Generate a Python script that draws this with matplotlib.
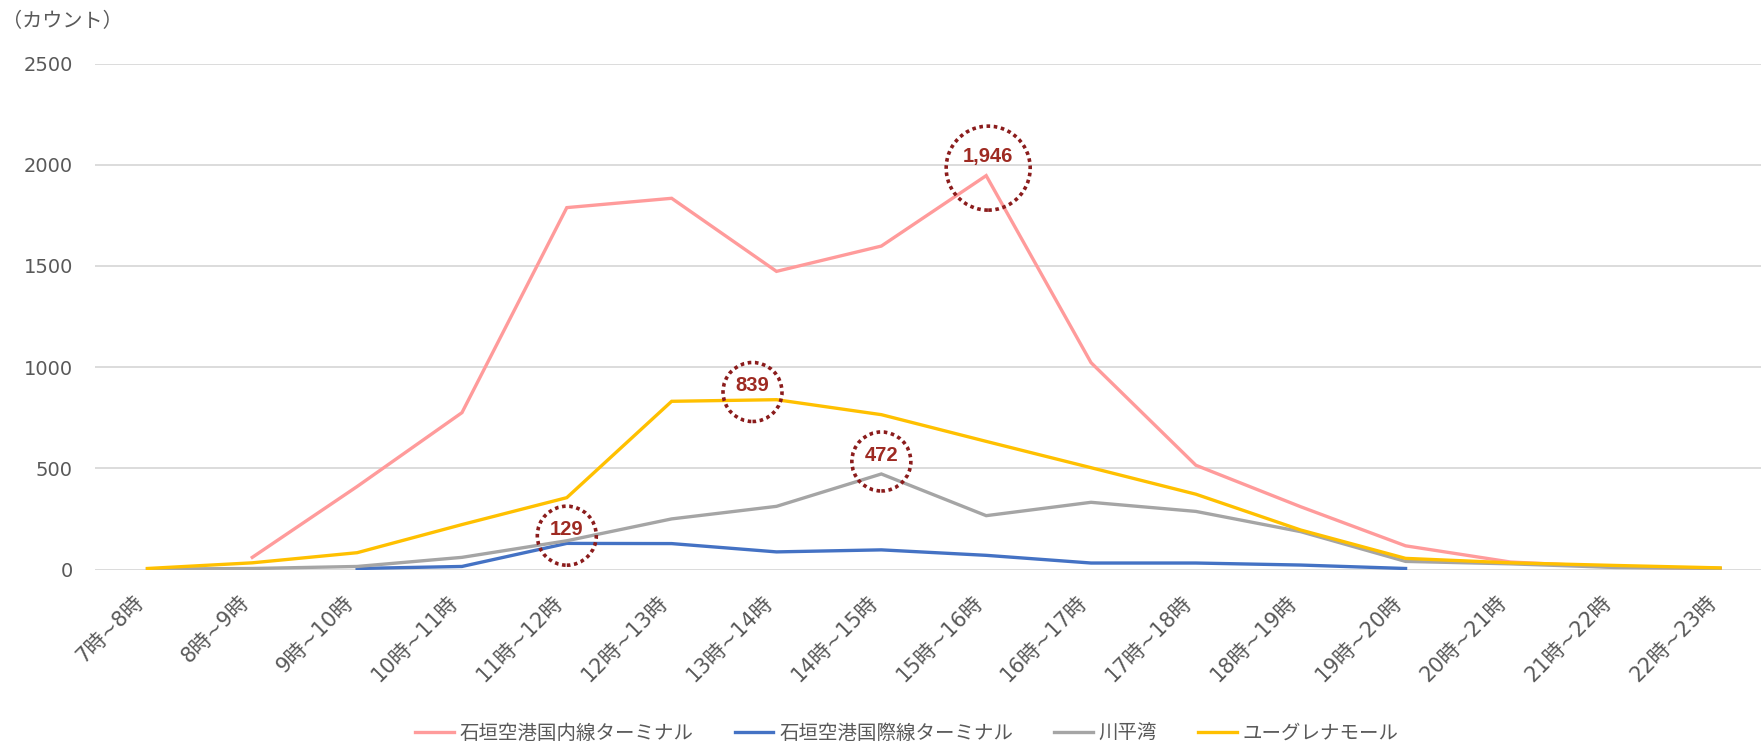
import numpy as np
import matplotlib
matplotlib.use('Agg')
import matplotlib.pyplot as plt
from matplotlib.transforms import ScaledTranslation

plt.rcParams['font.family'] = ['DejaVu Sans', 'Noto Sans CJK JP']

hours = ['7時~8時', '8時~9時', '9時~10時', '10時~11時', '11時~12時', '12時~13時',
         '13時~14時', '14時~15時', '15時~16時', '16時~17時', '17時~18時', '18時~19時',
         '19時~20時', '20時~21時', '21時~22時', '22時~23時']

nan = np.nan
domestic = [nan, 60, 410, 775, 1788, 1834, 1473, 1598, 1946, 1022, 515, 310, 117, 37, 12, 5]
international = [nan, nan, 5, 15, 129, 128, 87, 97, 70, 32, 32, 22, 5, nan, nan, nan]
kabira = [2, 5, 15, 60, 142, 250, 312, 472, 266, 332, 287, 187, 40, 28, 10, 5]
euglena = [5, 33, 83, 222, 355, 831, 839, 765, 633, 503, 372, 195, 55, 33, 20, 8]

series = [
    ('石垣空港国内線ターミナル', domestic, '#FF9B9B'),
    ('石垣空港国際線ターミナル', international, '#4472C4'),
    ('川平湾', kabira, '#A5A5A5'),
    ('ユーグレナモール', euglena, '#FFC000'),
]

# peaks marked with dotted circles: (index into hours, series values, label)
highlights = [
    (8, domestic, '1,946'),
    (6, euglena, '839'),
    (7, kabira, '472'),
    (4, international, '129'),
]

fig = plt.figure(figsize=(17.61, 7.45), dpi=100)
ax = fig.add_axes([95 / 1761, 1 - 569.5 / 745, 1 - 95 / 1761, (569.5 - 63.5) / 745])

x = np.arange(len(hours))
for name, vals, col in series:
    ax.plot(x, vals, color=col, lw=2.4, label=name, solid_joinstyle='miter', zorder=3)

ink = '#595959'
ax.set_ylim(0, 2500)
ax.set_xlim(-0.5, 15.39)
ax.set_yticks(np.arange(0, 2501, 500))
ax.set_xticks(x)
ax.set_xticklabels(hours, rotation=45, ha='right', fontsize=15, color=ink)
ax.tick_params(axis='y', length=0, pad=16, labelsize=14, labelcolor=ink)
ax.tick_params(axis='x', length=0, pad=16)
ax.grid(axis='y', color='#D9D9D9', lw=1.3)
ax.set_axisbelow(True)
for s in ax.spines.values():
    s.set_visible(False)

fig.text(2 / 1761, 1 - 22 / 745, '（カウント）', fontsize=14.5, color=ink,
         family='Noto Sans CJK JP', va='center', ha='left')

# dotted rings and value labels; offsets in pixels from the data point
ring_col = '#8B1C1C'
for i, vals, txt in highlights:
    big = txt == '1,946'
    dx = 2 if big else (-24 if txt == '839' else 0)
    dy_ring = 7.5 if big else (12.5 if txt == '472' else 7.7)
    r = 42 if big else 29.5
    d_pt = 2 * r * 0.72
    off = ScaledTranslation(dx / 100, dy_ring / 100, fig.dpi_scale_trans)
    ax.scatter([i], [vals[i]], s=d_pt ** 2, marker='o', facecolors='none',
               edgecolors=ring_col, linewidths=2.6, linestyles=(0, (1, 1.0)),
               transform=ax.transData + off, zorder=5, clip_on=False)
    dy_txt = 19 if big else dy_ring + 6
    ax.annotate(txt, (i, vals[i]), xytext=(dx, dy_txt), textcoords='offset pixels',
                ha='center', va='center', fontsize=14.5, fontweight='bold',
                color='#9E2A22', family='Liberation Sans', zorder=6)

fig.legend(loc='center', bbox_to_anchor=(907 / 1761, 1 - 733 / 745), ncol=4,
           frameon=False, handlelength=2.0, handletextpad=0.3, columnspacing=2.1,
           prop={'family': 'Noto Sans CJK JP', 'size': 14}, labelcolor=ink)

fig.savefig('out.png', dpi=100)
